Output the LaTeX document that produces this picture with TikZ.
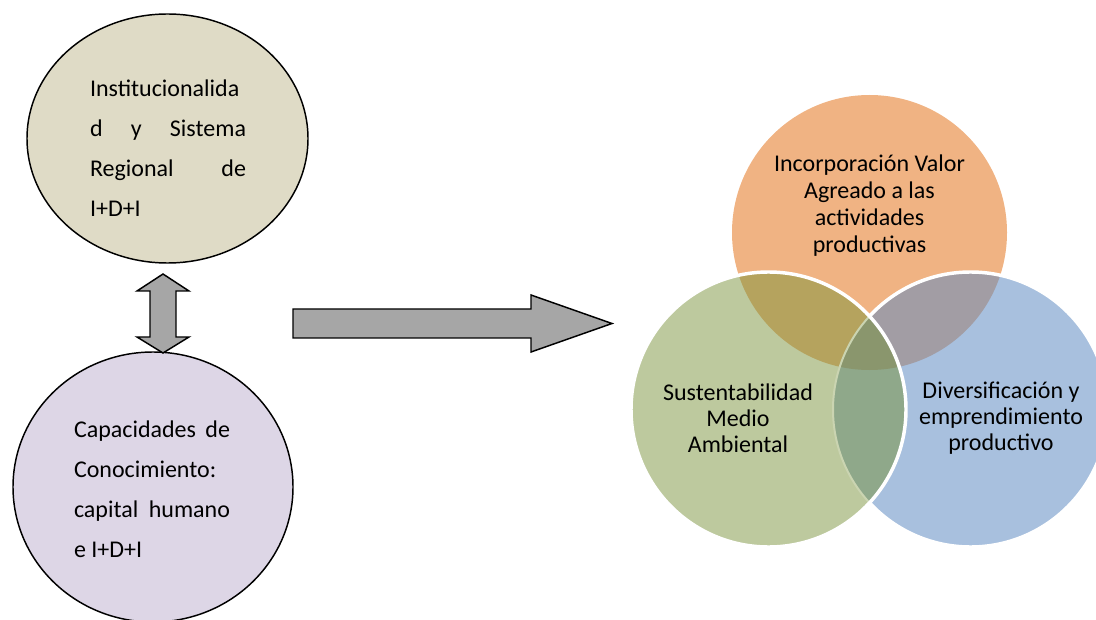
\documentclass[tikz,border=0pt]{standalone}
\usepackage{fontspec}
\setmainfont{Carlito}
\usepackage{tikz}
\usetikzlibrary{shapes.geometric,calc,positioning}
\definecolor{beigeC}{HTML}{DFDBC6}
\definecolor{lilaC}{HTML}{DDD6E6}
\definecolor{naranja}{HTML}{F0B383}
\definecolor{verde}{HTML}{BDC99E}
\definecolor{azul}{HTML}{A8C0DE}
\definecolor{nv}{HTML}{B5A35E}
\definecolor{na}{HTML}{A29DA4}
\definecolor{va}{HTML}{8FA88A}
\definecolor{nva}{HTML}{8A966D}
\definecolor{flecha}{HTML}{A6A6A6}
\newcommand{\jline}[1]{\hbox to 117pt{#1}}
\newcommand{\vennr}{103.125pt}
\tikzset{
  bubble/.style={ellipse,draw=black,line width=1.1pt,inner sep=0pt},
  bubtext/.style={align=left,font={\fontsize{18}{30}\selectfont},inner sep=0pt},
  venn/.style={circle,inner sep=0pt,minimum size=206.25pt},
  venntext/.style={align=center,font={\fontsize{18}{19.5}\selectfont},inner sep=0pt},
  blockarrow/.style={draw=black,fill=flecha,line width=1.1pt,line join=miter},
  rim/.style={draw=white,line width=2.6pt}
}
\begin{document}
\begin{tikzpicture}[x=0.75pt,y=-0.75pt]
  \useasboundingbox (0,0) rectangle (1096,620);

  \node[bubble,fill=beigeC,minimum width=210.75pt,minimum height=186.75pt] (inst) at (167.5,138.5) {};
  \node[bubtext] (instT) at (168,148) {\jline{Institucionalida\hfil}\\
                                       \jline{d y Sistema}\\
                                       \jline{Regional de}\\
                                       \jline{I+D+I\hfil}};
  \node[bubble,fill=lilaC,minimum width=210pt,minimum height=202.5pt] (cap) at (153,487) {};
  \node[bubtext] (capT) at (152,489) {\jline{Capacidades de}\\
                                      \jline{Conocimiento:\hfil}\\
                                      \jline{capital humano}\\
                                      \jline{e I+D+I\hfil}};

  \coordinate (da1) at (163,274);
  \coordinate (da2) at (163,353);
  \draw[blockarrow] (da1) -- ($(da1)+(26,17)$) -- ($(da1)+(13,17)$) -- ($(da2)+(13,-16)$)
        -- ($(da2)+(26,-16)$) -- (da2) -- ($(da2)+(-26,-16)$) -- ($(da2)+(-13,-16)$)
        -- ($(da1)+(-13,17)$) -- ($(da1)+(-26,17)$) -- cycle;

  \coordinate (ra1) at (293,323.5);
  \coordinate (ra2) at (612,323.5);
  \draw[blockarrow] ($(ra1)+(0,-14.5)$) -- ($(ra2)+(-81,-14.5)$) -- ($(ra2)+(-81,-28.5)$)
        -- (ra2) -- ($(ra2)+(-81,28.5)$) -- ($(ra2)+(-81,14.5)$) -- ($(ra1)+(0,14.5)$) -- cycle;

  % venn
  \node[venn] (ag) at (869.5,232.5) {};
  \node[venn] (ma) at (768.5,409.5) {};
  \node[venn] (dv) at (970.5,409.5) {};
  \fill[naranja] (ag.center) circle[radius=\vennr];
  \fill[azul] (dv.center) circle[radius=\vennr];
  \begin{scope}
    \clip (ag.center) circle[radius=\vennr];
    \fill[na] (dv.center) circle[radius=\vennr];
  \end{scope}
  \draw[rim] (dv.center) circle[radius=\vennr];
  \fill[verde] (ma.center) circle[radius=\vennr];
  \begin{scope}
    \clip (ma.center) circle[radius=\vennr];
    \fill[nv] (ag.center) circle[radius=\vennr];
    \fill[va] (dv.center) circle[radius=\vennr];
    \begin{scope}
      \clip (ag.center) circle[radius=\vennr];
      \fill[nva] (dv.center) circle[radius=\vennr];
    \end{scope}
    \draw[verde!80!white,line width=1.5pt] (dv.center) circle[radius=\vennr];
  \end{scope}
  \draw[rim] (ma.center) circle[radius=\vennr];

  \node[venntext,font={\fontsize{18}{20.25}\selectfont}] (agT) at ($(ag)+(0,-26.5)$) {Incorporación Valor\\Agreado a las\\actividades\\productivas};
  \node[venntext] (maT) at ($(ma)+(-30.5,9)$) {Sustentabilidad\\Medio\\Ambiental};
  \node[venntext] (dvT) at ($(dv)+(30.5,9)$) {Diversificación y\\emprendimiento\\productivo};
\end{tikzpicture}
\end{document}
